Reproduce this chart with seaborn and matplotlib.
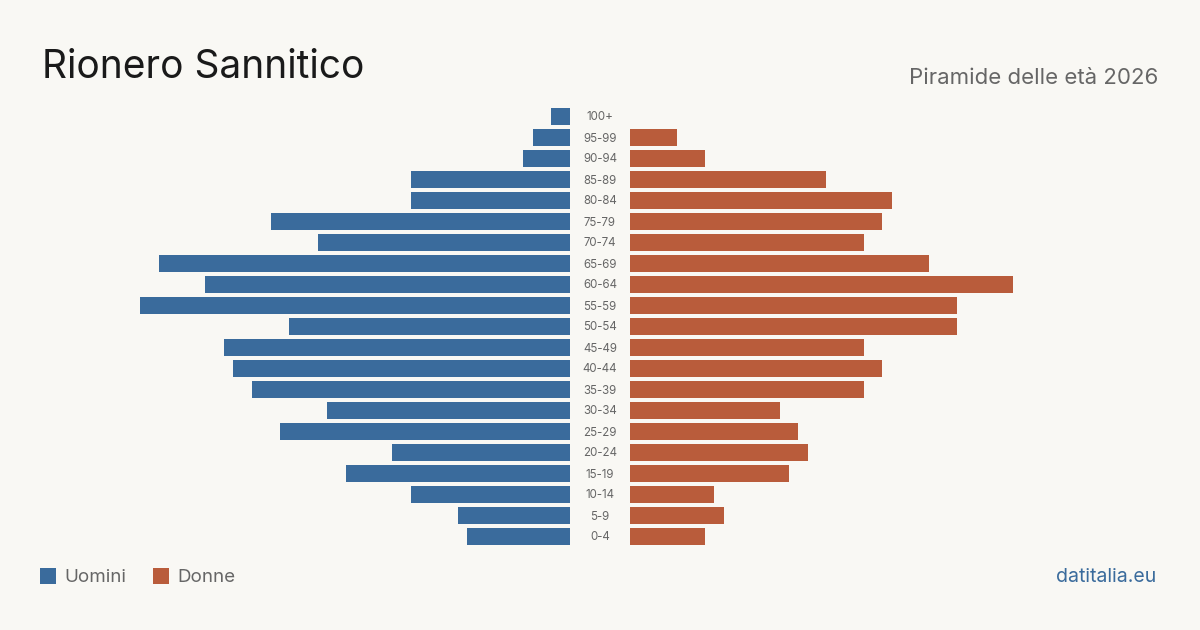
import matplotlib
matplotlib.use("Agg")
import matplotlib.pyplot as plt
import seaborn as sns
import pandas as pd
from matplotlib.patches import Rectangle

ages = ["100+", "95-99", "90-94", "85-89", "80-84", "75-79", "70-74", "65-69", "60-64",
        "55-59", "50-54", "45-49", "40-44", "35-39", "30-34", "25-29", "20-24", "15-19",
        "10-14", "5-9", "0-4"]
uomini = [2, 4, 5, 17, 17, 32, 27, 44, 39, 46, 30, 37, 36, 34, 26, 31, 19, 24, 17, 12, 11]
donne = [0, 5, 8, 21, 28, 27, 25, 32, 41, 35, 35, 25, 27, 25, 16, 18, 19, 17, 9, 10, 8]

BG = "#f9f8f4"
BLUE = "#3a6b9c"
ORANGE = "#b95c3b"

sns.set_theme(style="white")
plt.rcParams["font.family"] = ["Inter", "DejaVu Sans"]

df = pd.DataFrame({"age": ages, "uomini": uomini, "donne": donne})

W, H = 1200, 630
fig = plt.figure(figsize=(12, 6.3), dpi=100, facecolor=BG)

px = 9.35  # pixels per person
top_px, bot_px = 106, 547
b = (H - bot_px) / H
h = (bot_px - top_px) / H

left_l, left_r = 100, 570
right_l, right_r = 630, 1100
axL = fig.add_axes([left_l / W, b, (left_r - left_l) / W, h])
axR = fig.add_axes([right_l / W, b, (right_r - right_l) / W, h])

sns.barplot(data=df, x="uomini", y="age", order=ages, color=BLUE, ax=axL,
            width=0.82, saturation=1, orient="h", linewidth=0)
sns.barplot(data=df, x="donne", y="age", order=ages, color=ORANGE, ax=axR,
            width=0.82, saturation=1, orient="h", linewidth=0)

lim = (left_r - left_l) / px
axL.set_xlim(lim, 0)
axR.set_xlim(0, lim)
for ax in (axL, axR):
    ax.set_facecolor(BG)
    ax.patch.set_alpha(0)
    ax.set_xlabel("")
    ax.set_ylabel("")
    ax.set_xticks([])
    ax.set_yticks([])
    for s in ax.spines.values():
        s.set_visible(False)
    ax.set_ylim(len(ages) - 0.5, -0.5)

# age labels centered between the two halves
for i, a in enumerate(ages):
    y_px = top_px + (i + 0.5) * (bot_px - top_px) / len(ages) + 1
    fig.text(600 / W, 1 - y_px / H, a, ha="center", va="center",
             fontsize=8.3, color="#666666")

fig.text(42 / W, 1 - 67 / H, "Rionero Sannitico", ha="left", va="center",
         fontsize=28, color="#1a1a1a")
fig.text(1158 / W, 1 - 78.5 / H, "Piramide delle età 2026", ha="right", va="center",
         fontsize=16, color="#666666")

# legend
fig.add_artist(Rectangle((40 / W, 1 - 584 / H), 16 / W, 16 / H, transform=fig.transFigure,
                         color=BLUE, lw=0))
fig.text(64 / W, 1 - 577.5 / H, "Uomini", ha="left", va="center", fontsize=13.5, color="#666666")
fig.add_artist(Rectangle((153 / W, 1 - 584 / H), 16 / W, 16 / H, transform=fig.transFigure,
                         color=ORANGE, lw=0))
fig.text(177 / W, 1 - 577.5 / H, "Donne", ha="left", va="center", fontsize=13.5, color="#666666")

fig.text(1156 / W, 1 - 577.5 / H, "datitalia.eu", ha="right", va="center",
         fontsize=14, color=BLUE)

fig.savefig("out.png", dpi=100, facecolor=BG)
